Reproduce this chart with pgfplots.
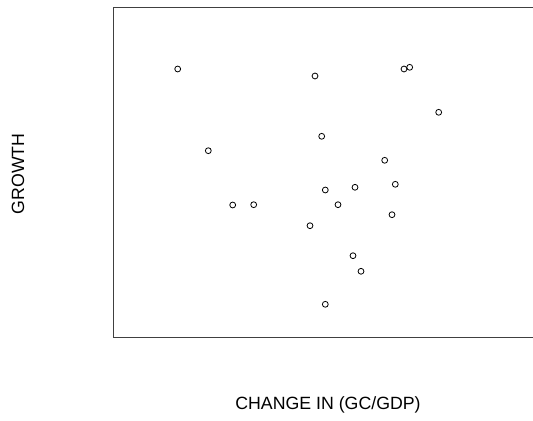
\documentclass[border=0pt]{standalone}
\usepackage{pgfplots}
\pgfplotsset{compat=1.18}
\usepackage{fontspec}
\setmainfont{Liberation Sans}
\begin{document}
\begin{tikzpicture}[x=1pt,y=1pt]
\path[use as bounding box] (0,0) rectangle (399.75,315.75);
\begin{axis}[
  at={(84.75pt,62.25pt)}, anchor=south west,
  scale only axis, width=315pt, height=247.5pt,
  xmin=113, xmax=533, ymin=83, ymax=413,
  xtick=\empty, ytick=\empty,
  axis line style={draw=none},
  clip=false,
]
\addplot[only marks, mark=o, mark size=2.2pt, mark options={line width=0.6pt, draw=black}] coordinates {
(177.7,352) (315,345) (404,352) (409.7,353.7) (438.7,308.7) (321.7,284.7)
(208.3,270.3) (384.7,260.7) (325.3,231) (355,233.7) (395.3,236.7)
(232.7,216) (253.7,216.3) (338,216.3) (392,206.3) (310,195.3)
(353,165.3) (361,149.7) (325.3,116.7)
};
\draw[black!75, line width=0.75pt] (rel axis cs:1.01,1) -- (rel axis cs:0,1) -- (rel axis cs:0,0) -- (rel axis cs:1.01,0);
\end{axis}
\node[font=\fontsize{13.3}{15}\selectfont] at (246,12) {CHANGE IN (GC/GDP)};
\node[font=\fontsize{13.3}{15}\selectfont, rotate=90] at (13.5,185.25) {GROWTH};
\end{tikzpicture}
\end{document}
